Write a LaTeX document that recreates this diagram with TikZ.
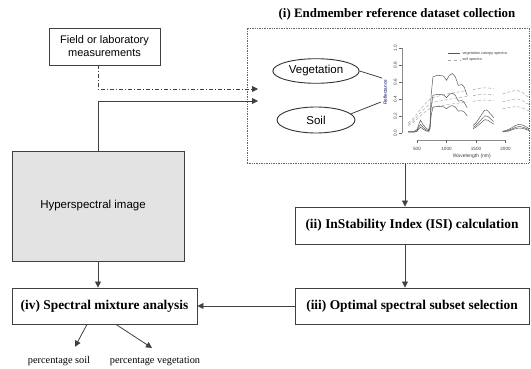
\documentclass[tikz,border=0pt]{standalone}
\usepackage{fontspec}
\setmainfont{Liberation Serif}
\setsansfont{Liberation Sans}
\usetikzlibrary{arrows.meta,shapes.geometric}
\begin{document}
\begin{tikzpicture}[x=1pt, y=-1pt,
  stagebox/.style={draw=black!75, line width=0.9pt, inner sep=2pt, font=\fontsize{13.4}{15}\selectfont\bfseries},
  plainbox/.style={draw=black!75, line width=0.9pt, align=center, font=\sffamily\fontsize{11}{13}\selectfont},
  endnode/.style={ellipse, draw=black!80, line width=0.9pt, minimum width=78pt, font=\sffamily\fontsize{11.5}{13}\selectfont},
  arr/.style={-{Triangle[length=6pt,width=6pt]}, draw=black!75, line width=0.8pt},
  link/.style={draw=black!75, line width=0.8pt},
  outlbl/.style={font=\fontsize{10.3}{12}\selectfont},
  tinylbl/.style={font=\sffamily\fontsize{4.6}{5}\selectfont, text=black!75, inner sep=0.5pt}]
\useasboundingbox (0,0) rectangle (531,369);
% inputs
\node[plainbox, minimum width=111pt, minimum height=37pt] (field) at (104.5,46.5) {Field or laboratory\\measurements};
\node[plainbox, fill=black!11, minimum width=172pt, minimum height=110pt, font=\sffamily\fontsize{11.5}{13}\selectfont] (hyper) at (98,206) {Hyperspectral image\hspace*{10pt}};
% (i) endmember dataset
\node[draw=black!60, densely dotted, line width=0.7pt, minimum width=282pt, minimum height=135pt] (endbox) at (388,95.5) {};
\node[font=\bfseries\fontsize{12.9}{14}\selectfont] (title) at (397,14) {(i) Endmember reference dataset collection};
\node[endnode, minimum height=21pt] (veg) at (316,71) {Vegetation};
\node[endnode, minimum height=26pt] (soil) at (316,120) {Soil};
% spectra plot
\begin{scope}[shift={(387.5,133)}, x=0.059pt, y=85pt]
  \draw[black!45, line width=0.4pt] (246,1.0) -- (246,0);
  \draw[black!45, line width=0.4pt] (500,-0.08) -- (2000,-0.08);
  \foreach \r/\t in {0/0.0,0.2/0.2,0.4/0.4,0.6/0.6,0.8/0.8,1/1.0} {
    \draw[black!60, line width=0.4pt] (246,\r) -- (200,\r);
    \node[tinylbl, rotate=90] (ytick\t) at (130,\r) {\t};
  }
  \foreach \w in {500,1000,1500,2000} {
    \draw[black!60, line width=0.4pt] (\w,-0.08) -- (\w,-0.12);
    \node[tinylbl] (xtick\w) at (\w,-0.19) {\w};
  }
  \node[tinylbl, rotate=90, text=blue!40!black] (ylabel) at (-40,0.48) {Reflectance};
  \node[tinylbl, font=\sffamily\fontsize{5}{6}\selectfont] (xlabel) at (1430,-0.27) {Wavelength (nm)};
  \draw[black!65, line width=0.5pt] (1025,0.94) -- (1230,0.94);
  \node[tinylbl, anchor=west, font=\sffamily\fontsize{3.8}{4}\selectfont] (leg1) at (1260,0.94) {vegetation canopy spectra};
  \draw[black!35, line width=0.5pt, dashed] (1025,0.86) -- (1230,0.86);
  \node[tinylbl, anchor=west, font=\sffamily\fontsize{3.8}{4}\selectfont] (leg2) at (1260,0.86) {soil spectra};
  % soil spectra
  \foreach \k in {1,0.86,0.73} {
    \draw[black!35, line width=0.5pt, densely dashed, yscale=\k] plot[smooth] coordinates {(350,0.12) (450,0.18) (550,0.27) (650,0.35) (750,0.41) (900,0.44) (1100,0.47) (1350,0.50)};
    \draw[black!35, line width=0.5pt, densely dashed, yscale=\k] plot[smooth] coordinates {(1450,0.51) (1600,0.53) (1700,0.53) (1800,0.52)};
  }
  \foreach \k in {1,0.8,0.62} {
    \draw[black!35, line width=0.5pt, densely dashed, yscale=\k] plot[smooth] coordinates {(1950,0.46) (2100,0.49) (2200,0.50) (2300,0.47) (2350,0.44) (2400,0.42)};
  }
  % vegetation spectra
  \foreach \k in {1,0.67,0.46} {
    \draw[black!65, line width=0.5pt, yscale=\k] (350,0.02) -- (450,0.02) -- (500,0.04) -- (540,0.12) -- (560,0.15) -- (600,0.1) -- (660,0.05) -- (700,0.04) -- (720,0.1) -- (740,0.45) -- (770,0.66) -- (850,0.68) -- (950,0.67) -- (1000,0.62) -- (1050,0.68) -- (1100,0.70) -- (1150,0.66) -- (1200,0.56) -- (1260,0.57) -- (1300,0.54) -- (1350,0.44);
  }
  \foreach \k in {1,0.75,0.58} {
    \draw[black!65, line width=0.5pt, yscale=\k] plot[smooth] coordinates {(1450,0.09) (1500,0.12) (1580,0.2) (1650,0.27) (1700,0.26) (1750,0.22) (1800,0.18)};
    \draw[black!65, line width=0.5pt, yscale=\k] plot[smooth] coordinates {(1950,0.02) (2050,0.04) (2150,0.08) (2220,0.1) (2300,0.09) (2400,0.05)};
  }
\end{scope}
\coordinate (vegend) at (382,78);
\coordinate (soilend) at (381,102);
\draw[link] (veg.east) -- (vegend);
\draw[link] (soil.10) -- (soilend);
% (ii)-(iv) steps
\node[stagebox, minimum width=234pt, minimum height=37pt] (isi) at (412,225.5) {(ii) InStability Index (ISI) calculation};
\node[stagebox, minimum width=234pt, minimum height=36pt] (subset) at (412,306) {(iii) Optimal spectral subset selection};
\node[stagebox, minimum width=185pt, minimum height=36pt] (sma) at (104.5,306) {(iv) Spectral mixture analysis};
\node[outlbl] (pcsoil) at (59,361) {percentage soil};
\node[outlbl] (pcveg) at (155,361) {percentage vegetation};
% connectors
\coordinate (tipA) at (258,89);
\coordinate (tipB) at (258,101);
\draw[arr, dash pattern=on 4pt off 2pt on 1pt off 2pt] (field.south -| hyper.north) |- (tipA);
\draw[arr] (hyper.north) |- (tipB);
\coordinate (isiin) at ([xshift=-7pt]isi.north);
\coordinate (isiout) at ([xshift=-7pt]isi.south);
\draw[arr] (isiin |- endbox.south) -- (isiin);
\draw[arr] (isiout) -- (isiout |- subset.north);
\draw[arr] (subset.west) -- (sma.east);
\draw[arr] (hyper.south) -- (hyper.south |- sma.north);
\draw[arr] ([xshift=-17.5pt]sma.south) -- ([xshift=16pt,yshift=6pt]pcsoil.north);
\draw[arr] ([xshift=11.5pt]sma.south) -- ([xshift=-3pt,yshift=5pt]pcveg.north);
\end{tikzpicture}
\end{document}
